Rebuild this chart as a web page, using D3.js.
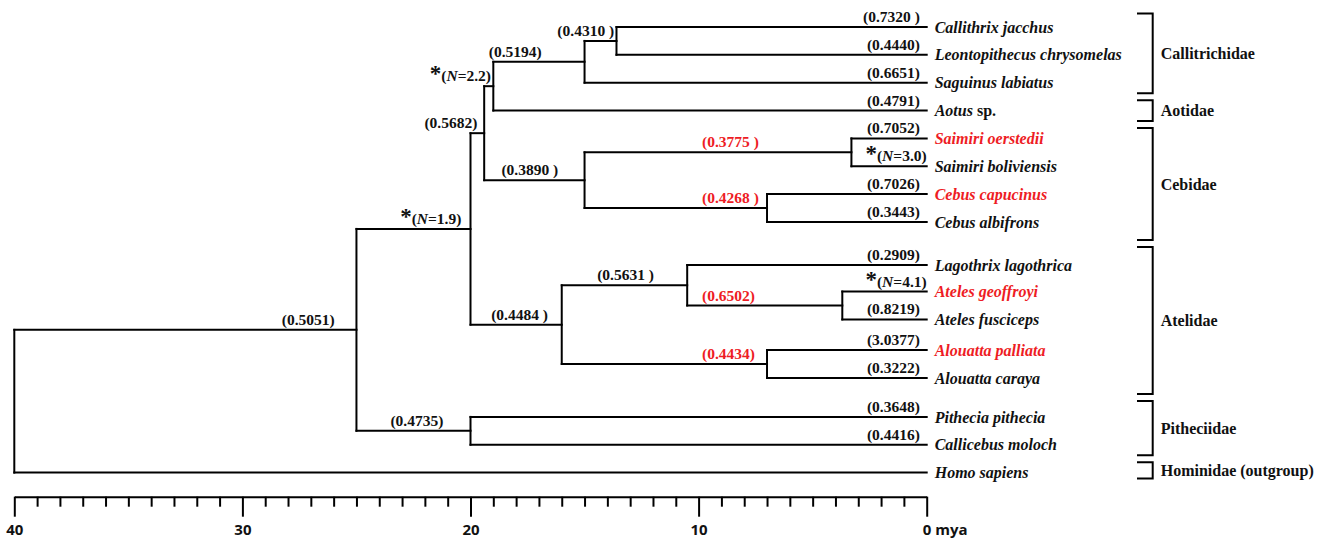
<!DOCTYPE html>
<html>
<head>
<meta charset="utf-8">
<script src="https://cdn.jsdelivr.net/npm/d3@7"></script>
<style>
  body { margin: 0; background: #fff; }
  svg text { font-family: "Liberation Serif", "Times New Roman", serif; font-weight: bold; fill: #111; }
</style>
</head>
<body>
<svg id="chart" width="1322" height="540"></svg>
<script>
// tree: node ids, parent of each, age (mya) of each
var nodeIds = ["root", "n25", "n20", "nB", "nC", "calli", "cj", "cebi", "saim", "cebus",
  "atel", "ateline", "ateles", "alou", "pith",
  "Callithrix jacchus", "Leontopithecus chrysomelas", "Saguinus labiatus", "Aotus sp.",
  "Saimiri oerstedii", "Saimiri boliviensis", "Cebus capucinus", "Cebus albifrons",
  "Lagothrix lagothrica", "Ateles geoffroyi", "Ateles fusciceps", "Alouatta palliata",
  "Alouatta caraya", "Pithecia pithecia", "Callicebus moloch", "Homo sapiens"];
var nodeParents = ["", "root", "n25", "n20", "nB", "nC", "calli", "nB", "cebi", "cebi",
  "n20", "atel", "ateline", "atel", "n25",
  "cj", "cj", "calli", "nC",
  "saim", "saim", "cebus", "cebus",
  "ateline", "ateles", "ateles", "alou",
  "alou", "pith", "pith", "root"];
var nodeAges = [40, 25, 20, 19.4, 19, 15, 13.6, 15, 3.3, 7, 16, 10.5, 3.7, 7, 20,
  0, 0, 0, 0, 0, 0, 0, 0, 0, 0, 0, 0, 0, 0, 0, 0];

// tips top to bottom and their row index (gaps between groups)
var tipNames = ["Callithrix jacchus", "Leontopithecus chrysomelas", "Saguinus labiatus", "Aotus sp.",
  "Saimiri oerstedii", "Saimiri boliviensis", "Cebus capucinus", "Cebus albifrons",
  "Lagothrix lagothrica", "Ateles geoffroyi", "Ateles fusciceps", "Alouatta palliata",
  "Alouatta caraya", "Pithecia pithecia", "Callicebus moloch", "Homo sapiens"];
var tipRows = [0, 1, 2, 3, 4, 5, 6, 7, 8.55, 9.5, 10.5, 11.6, 12.6, 14, 15, 16];
var redTips = ["Saimiri oerstedii", "Cebus capucinus", "Ateles geoffroyi", "Alouatta palliata"];

// families: name, first tip, last tip
var familyNames = ["Callitrichidae", "Aotidae", "Cebidae", "Atelidae", "Pitheciidae", "Hominidae (outgroup)"];
var familyFirst = [0, 3, 4, 8, 13, 15];
var familyLast = [2, 3, 7, 12, 14, 15];

// branch labels: node, text, age where the label sits, anchor, red?
var branchLabels = [
  ["cj", "(0.4310 )", 13.7, "end", false],
  ["calli", "(0.5194)", 19.2, "start", false],
  ["nC", "*(N=2.2)", 19.1, "end", false],
  ["nB", "(0.5682)", 19.7, "end", false],
  ["cebi", "(0.3890 )", 17.4, "middle", false],
  ["n20", "*(N=1.9)", 20.4, "end", false],
  ["n25", "(0.5051)", 25.95, "end", false],
  ["atel", "(0.4484 )", 17.85, "middle", false],
  ["ateline", "(0.5631 )", 13.2, "middle", false],
  ["pith", "(0.4735)", 22.35, "middle", false],
  ["saim", "(0.3775 )", 9.85, "start", true],
  ["cebus", "(0.4268 )", 9.85, "start", true],
  ["ateles", "(0.6502)", 9.85, "start", true],
  ["alou", "(0.4434)", 9.85, "start", true],
  ["Callithrix jacchus", "(0.7320 )", 0.3, "end", false],
  ["Leontopithecus chrysomelas", "(0.4440)", 0.3, "end", false],
  ["Saguinus labiatus", "(0.6651)", 0.3, "end", false],
  ["Aotus sp.", "(0.4791)", 0.3, "end", false],
  ["Saimiri oerstedii", "(0.7052)", 0.3, "end", false],
  ["Saimiri boliviensis", "*(N=3.0)", 0, "end", false],
  ["Cebus capucinus", "(0.7026)", 0.3, "end", false],
  ["Cebus albifrons", "(0.3443)", 0.3, "end", false],
  ["Lagothrix lagothrica", "(0.2909)", 0.3, "end", false],
  ["Ateles geoffroyi", "*(N=4.1)", 0, "end", false],
  ["Ateles fusciceps", "(0.8219)", 0.3, "end", false],
  ["Alouatta palliata", "(3.0377)", 0.3, "end", false],
  ["Alouatta caraya", "(0.3222)", 0.3, "end", false],
  ["Pithecia pithecia", "(0.3648)", 0.3, "end", false],
  ["Callicebus moloch", "(0.4416)", 0.3, "end", false]
];

var axisMin = 0, axisMax = 40;
var majorTicks = [40, 30, 20, 10, 0];

var red = "#ee1c24";

var svg = d3.select("#chart");

var x = d3.scaleLinear().domain([axisMax, axisMin]).range([14.3, 926.7]);
var y = d3.scaleLinear().domain([0, 16]).range([27, 472.6]);

var root = d3.stratify()
  .id(function (d) { return d.id; })
  .parentId(function (d) { return d.parent || null; })(
    nodeIds.map(function (id, i) { return { id: id, parent: nodeParents[i], age: nodeAges[i] }; })
  );

// y of tips from rows, internal nodes at the middle of their children
root.eachAfter(function (n) {
  if (!n.children) {
    n.py = y(tipRows[tipNames.indexOf(n.id)]);
  } else {
    var ys = n.children.map(function (c) { return c.py; });
    n.lo = d3.min(ys);
    n.hi = d3.max(ys);
    n.py = (n.lo + n.hi) / 2;
  }
});

var byId = {};
root.each(function (n) { byId[n.id] = n; });

// branches
var tree = svg.append("g").attr("class", "tree");

tree.selectAll("path.h")
  .data(root.descendants().filter(function (n) { return n.parent; }))
  .enter()
  .append("path")
  .attr("class", "h")
  .attr("d", function (n) {
    return "M" + x(n.parent.data.age) + "," + n.py + "H" + x(n.data.age);
  })
  .attr("fill", "none")
  .attr("stroke", "#000")
  .attr("stroke-width", 2)
  .attr("stroke-linecap", "square");

tree.selectAll("path.v")
  .data(root.descendants().filter(function (n) { return n.children; }))
  .enter()
  .append("path")
  .attr("class", "v")
  .attr("d", function (n) {
    return "M" + x(n.data.age) + "," + n.lo + "V" + n.hi;
  })
  .attr("fill", "none")
  .attr("stroke", "#000")
  .attr("stroke-width", 2)
  .attr("stroke-linecap", "square");

// tip names
var tipText = svg.append("g").selectAll("text")
  .data(tipNames)
  .enter()
  .append("text")
  .attr("x", x(0) + 8)
  .attr("y", function (d) { return byId[d].py; })
  .attr("dy", "0.35em")
  .style("font-size", "16px")
  .style("fill", function (d) { return redTips.indexOf(d) >= 0 ? red : "#111"; });

tipText.each(function (d) {
  var t = d3.select(this);
  if (/ sp\.$/.test(d)) {
    t.append("tspan").style("font-style", "italic").text(d.replace(/ sp\.$/, ""));
    t.append("tspan").text(" sp.");
  } else {
    t.append("tspan").style("font-style", "italic").text(d);
  }
});

// branch labels
var lab = svg.append("g").selectAll("text")
  .data(branchLabels)
  .enter()
  .append("text")
  .attr("x", function (d) { return x(d[2]); })
  .attr("y", function (d) { return byId[d[0]].py - 5; })
  .attr("text-anchor", function (d) { return d[3]; })
  .style("font-size", "15.5px")
  .style("fill", function (d) { return d[4] ? red : "#111"; });

lab.each(function (d) {
  var t = d3.select(this);
  var s = d[1];
  if (s.charAt(0) === "*") {
    var m = s.match(/^\*\((N)(=.*)\)$/);
    t.append("tspan").style("font-size", "23px").text("*");
    t.append("tspan").text("(");
    t.append("tspan").style("font-style", "italic").text(m[1]);
    t.append("tspan").text(m[2] + ")");
  } else {
    t.text(s);
  }
});

// family brackets
var bx0 = 1137, bx1 = 1152.7;
var fam = svg.append("g").selectAll("g")
  .data(familyNames)
  .enter()
  .append("g")
  .each(function (d, i) {
    var first = y(tipRows[familyFirst[i]]);
    var last = y(tipRows[familyLast[i]]);
    var top = i === 0 ? first - 13.5
      : (y(tipRows[familyLast[i - 1]]) + first) / 2 + 3.5;
    var bottom = i === familyNames.length - 1 ? last + 6
      : (last + y(tipRows[familyFirst[i + 1]])) / 2 - 3.5;
    var g = d3.select(this);
    g.append("path")
      .attr("d", "M" + bx0 + "," + top + "H" + bx1 + "V" + bottom + "H" + bx0)
      .attr("fill", "none")
      .attr("stroke", "#000")
      .attr("stroke-width", 2);
    g.append("text")
      .attr("x", bx1 + 8)
      .attr("y", (top + bottom) / 2)
      .attr("dy", "0.35em")
      .style("font-size", "16px")
      .text(d);
  });

// time axis
var axis = d3.axisBottom(x)
  .tickValues(d3.range(axisMin, axisMax + 1))
  .tickSize(10)
  .tickSizeOuter(0)
  .tickFormat(function (d) { return majorTicks.indexOf(d) >= 0 ? d : ""; });

var ax = svg.append("g")
  .attr("transform", "translate(0,496.7)")
  .call(axis);

ax.select(".domain").attr("stroke", "#000").attr("stroke-width", 2);
ax.selectAll(".tick line")
  .attr("stroke", "#000")
  .attr("stroke-width", 2)
  .attr("y2", function (d) { return majorTicks.indexOf(d) >= 0 ? 20 : 10; });
ax.selectAll(".tick text")
  .attr("y", 33.5)
  .attr("dy", "0.35em")
  .style("font-family", "'Open Sans', 'DejaVu Sans', sans-serif")
  .style("font-weight", "bold")
  .style("font-size", "15px")
  .style("fill", "#111");
ax.selectAll(".tick text")
  .filter(function (d) { return d === 0; })
  .attr("text-anchor", "start")
  .attr("x", -4.4)
  .text("0 mya");
</script>
</body>
</html>
